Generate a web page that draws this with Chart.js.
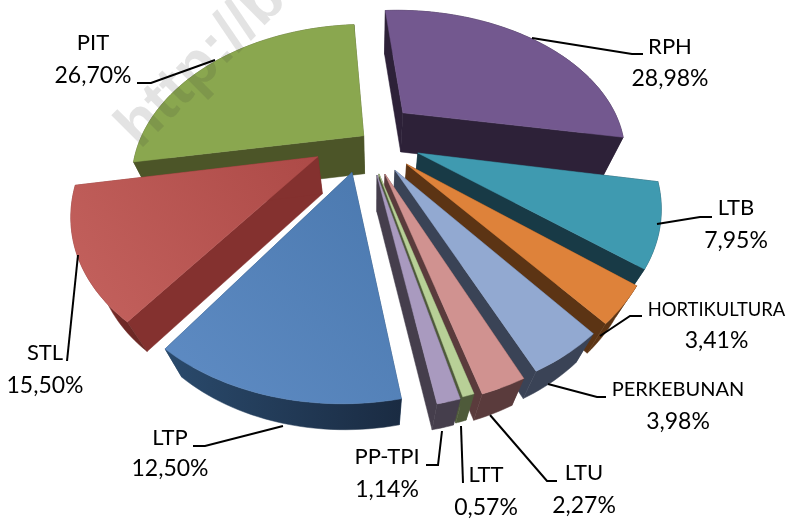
<!DOCTYPE html>
<html><head><meta charset="utf-8">
<style>html,body{margin:0;padding:0;background:#fff}canvas{display:block}</style>
<script src="https://cdn.jsdelivr.net/npm/chart.js@4/dist/chart.umd.min.js"></script>
</head><body><canvas id="c" width="793" height="520"></canvas>
<script>
// ---- data ----
const categories = ['RPH','LTB','HORTIKULTURA','PERKEBUNAN','LTU','LTT','PP-TPI','LTP','STL','PIT'];
// slice sizes as drawn: the STL wedge measures 12.5% of the circle although the printed label says 15,50%
const values = [28.98,7.95,3.41,3.98,2.27,0.57,1.14,12.50,12.50,26.70];
const valueLabels = ['28,98%','7,95%','3,41%','3,98%','2,27%','0,57%','1,14%','12,50%','15,50%','26,70%'];
// ---- styles ----
const topColors = ['#73588f','#3f9ab0','#de823a','#92a9d1','#d09290','#b8d097','#a99abf','#4a78ae','#ad4a47','#8aa74f'];
const topColorsEnd = ['#73588f','#3f9ab0','#de823a','#92a9d1','#d09290','#b8d097','#a99abf','#5f8cc4','#c4625e','#8aa74f'];
const wallColors = ['#2d2138','#183a46','#5c3414','#3a4356','#5a3b3c','#4e5a3a','#453e4c','#2a4a6c','#84312f','#4c5528'];
const rimColors = ['#2d2138','#183a46','#5c3414','#3a4356','#5a3b3c','#4e5a3a','#453e4c','#1a2b42','#6d2825','#4c5528'];
const explodePx = [56,45,43,43,45,45,45,43,63,16];
const explodeNudge = [[-.054,-.053],[.005,-.016],[0,.004],[-.016,.014],[-.028,.013],[-.036,.007],[-.034,.011],[-.056,.004],[-.012,-.059],[.005,-.007]];
const paintOrder = [0,9,1,8,2,3,4,5,6,7];
// projection of the flat pie onto a receding plane
const view = {cx:375, cy:143, k:146/225, p:.28, vpx:375, vpy:980, lambdaX:.92, lambdaY:.955};
// label layout: [centre x, name y, value y, name font px, leader points]
const labelLayout = [
 [670,47,79,22,[[532,38],[632,54],[643,54]]],
 [736,208,241,22,[[657,224],[700,217],[712,217]]],
 [716.5,310,341,18.4,[[600,336],[630,316],[642,316]]],
 [678,390,422,20,[[548,384],[597,397],[606,397]]],
 [584,473,506,22,[[490,415],[547,481],[557,481]]],
 [486,475,508,22,[[461,426],[463,483]]],
 [387,457,490,22,[[442,431],[438,465],[426,465]]],
 [170,438,469,22,[[283,426],[205,446],[193,446]]],
 [45,353,386,22,[[78,255],[67,361]]],
 [93,43,76,22,[[215,60],[151,83],[137,83]]]
];
function project(u,v,bottom){
  const s=1/(1-view.p*v);
  let X=view.cx+225*u*s, Y=view.cy+225*view.k*v*s;
  if(bottom){X=view.vpx+view.lambdaX*(X-view.vpx);Y=view.vpy+view.lambdaY*(Y-view.vpy);}
  return [X,Y];
}
function poly(ctx,pts,fill){
  ctx.beginPath();pts.forEach((p,i)=>i?ctx.lineTo(p[0],p[1]):ctx.moveTo(p[0],p[1]));ctx.closePath();
  ctx.fillStyle=fill;ctx.fill();ctx.strokeStyle=fill;ctx.lineWidth=.5;ctx.stroke();
}
function drawSlice(ctx,arc,i){
  const R=arc.outerRadius, a0=arc.startAngle, a1=arc.endAngle, mid=(a0+a1)/2, off=arc.options.offset;
  const ou=Math.cos(mid)*off/R+explodeNudge[i][0], ov=Math.sin(mid)*off/R+explodeNudge[i][1];
  const n=Math.max(6,Math.ceil((a1-a0)*40));
  const rimT=[],rimB=[];
  for(let j=0;j<=n;j++){
    const a=a0+(a1-a0)*j/n,u=ou+Math.cos(a),v=ov+Math.sin(a);
    rimT.push(project(u,v,false));rimB.push(project(u,v,true));
  }
  const apexT=project(ou,ov,false),apexB=project(ou,ov,true);
  poly(ctx,[apexT,rimT[0],rimB[0],apexB],wallColors[i]);
  poly(ctx,[apexT,rimT[n],rimB[n],apexB],wallColors[i]);
  const g0=ctx.createLinearGradient(Math.min(...rimT.map(p=>p[0])),0,Math.max(...rimT.map(p=>p[0])),0);
  g0.addColorStop(0,wallColors[i]);g0.addColorStop(1,rimColors[i]);
  poly(ctx,rimT.concat(rimB.slice().reverse()),g0);
  const xs=rimT.map(p=>p[0]).concat(apexT[0]),ys=rimT.map(p=>p[1]).concat(apexT[1]);
  const g=ctx.createLinearGradient(Math.max(...xs),Math.min(...ys),Math.min(...xs),Math.max(...ys));
  g.addColorStop(0,arc.options.backgroundColor);g.addColorStop(1,topColorsEnd[i]);
  poly(ctx,[apexT].concat(rimT),g);
}
const pie3d={
  id:'pie3d',
  beforeDatasetDraw(chart,args){
    const meta=args.meta,ctx=chart.ctx;
    ctx.save();paintOrder.forEach(i=>drawSlice(ctx,meta.data[i],i));ctx.restore();
    return false;
  },
  afterDraw(chart){
    const ctx=chart.ctx;
    ctx.save();
    ctx.translate(140,150);ctx.rotate(-45*Math.PI/180);
    ctx.font='bold 62px "Liberation Sans"';ctx.fillStyle='rgba(60,60,60,.14)';
    ctx.textBaseline='alphabetic';ctx.fillText('http://b',0,0);
    ctx.restore();
    ctx.save();
    ctx.strokeStyle='#000';ctx.lineWidth=2;ctx.lineJoin='miter';
    ctx.fillStyle='#000';ctx.textAlign='center';ctx.textBaseline='middle';
    labelLayout.forEach((l,i)=>{
      ctx.beginPath();l[4].forEach((p,j)=>j?ctx.lineTo(p[0],p[1]):ctx.moveTo(p[0],p[1]));ctx.stroke();
      ctx.font=l[3]+'px Lato';ctx.fillText(categories[i],l[0],l[1]);
      ctx.font='23px Lato';ctx.fillText(valueLabels[i],l[0],l[2]);
    });
    ctx.restore();
  }
};
new Chart(document.getElementById('c'),{
  type:'pie',
  data:{labels:categories,datasets:[{data:values,backgroundColor:topColors,borderWidth:0,offset:explodePx,hoverOffset:0,radius:225,clip:false}]},
  options:{responsive:false,animation:false,rotation:-4,layout:{padding:0},
    plugins:{legend:{display:false},tooltip:{enabled:false},title:{display:false}}},
  plugins:[pie3d]
});
</script></body></html>
